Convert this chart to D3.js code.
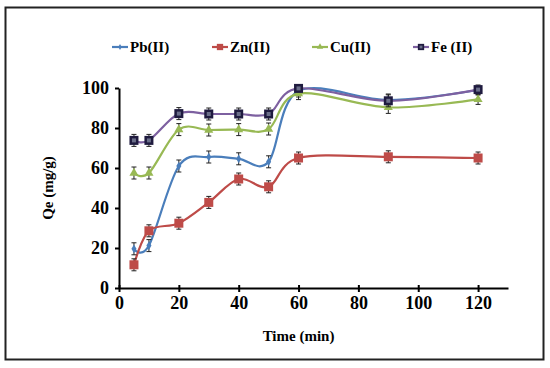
<!DOCTYPE html>
<html>
<head>
<meta charset="utf-8">
<script src="https://cdn.jsdelivr.net/npm/d3@7"></script>
<style>
  body { margin: 0; background: #fff; }
  svg text { font-family: "Liberation Serif", "Times New Roman", serif; font-weight: bold; }
</style>
</head>
<body>
<svg id="drawing_region"></svg>
<script>
// data
const times = [5, 10, 20, 30, 40, 50, 60, 90, 120];
const pb = [19.6, 21.2, 61, 65.5, 64.6, 63.1, 98.5, 94, 99];
const zn = [11.6, 28.6, 32.4, 42.8, 54.5, 50.6, 65, 65.6, 65];
const cu = [57.5, 57.5, 79.2, 79, 79.2, 79.5, 97.2, 90.3, 94.3];
const fe = [73.8, 73.8, 87.2, 87, 87, 87, 99.8, 93.6, 99.2];
const errPb = [3, 3, 3, 3, 3, 3, 3, 3, 2.5];
const errZn = [3, 3, 3, 3, 3, 3, 3, 3, 3];
const errCu = [3, 3, 3, 3, 3, 3, 3, 3, 2.5];
const errFe = [3, 3, 3, 3, 3, 3, 1, 3, 1.5];
const seriesNames = ["Pb(II)", "Zn(II)", "Cu(II)", "Fe (II)"];
const xTicks = [0, 20, 40, 60, 80, 100, 120];
const yTicks = [0, 20, 40, 60, 80, 100];

const W = 550, H = 368;
const margin = {left: 119, top: 88, right: 41, bottom: 80};
const serif = '"Liberation Serif", "Times New Roman", serif';

const svg = d3.select('#drawing_region')
    .attr('width', W)
    .attr('height', H);

// outer frame
svg.append('rect')
    .attr('x', 5.5).attr('y', 7.5)
    .attr('width', 538).attr('height', 352)
    .attr('fill', 'none')
    .attr('stroke', '#222')
    .attr('stroke-width', 2);

const x = d3.scaleLinear().domain([0, 130]).range([margin.left, W - margin.right - 1]);
const y = d3.scaleLinear().domain([0, 100]).range([288, 88]);

const g = svg.append('g');

// axes
const xAxis = g.append('g')
    .attr('transform', `translate(0,${y(0)})`)
    .call(d3.axisBottom(x).tickValues(xTicks).tickSize(4).tickSizeOuter(0).tickPadding(4));
const yAxis = g.append('g')
    .attr('transform', `translate(${x(0)},0)`)
    .call(d3.axisLeft(y).tickValues(yTicks).tickSize(4).tickSizeOuter(0).tickPadding(6));

[xAxis, yAxis].forEach(a => {
    a.attr('font-family', serif).attr('font-size', 18);
    a.select('.domain').attr('stroke', '#000').attr('stroke-width', 2);
    a.selectAll('.tick line').attr('stroke', '#000').attr('stroke-width', 2);
    a.selectAll('.tick text')
        .attr('fill', '#000')
        .style('font-family', serif)
        .style('font-size', '18px')
        .style('font-weight', 'bold');
});
// tick marks cross the x axis in the original
xAxis.selectAll('.tick line').attr('y1', -3).attr('y2', 4);

// axis titles
svg.append('text')
    .attr('x', x(60)).attr('y', 341)
    .attr('text-anchor', 'middle')
    .attr('font-size', 15)
    .text('Time (min)');
svg.append('text')
    .attr('transform', `translate(53,${y(50)}) rotate(-90)`)
    .attr('text-anchor', 'middle')
    .attr('font-size', 15)
    .text('Qe (mg/g)');

const series = [
    {name: seriesNames[0], values: pb, err: errPb, color: '#4a7ebb', marker: 'diamond'},
    {name: seriesNames[1], values: zn, err: errZn, color: '#be4b48', marker: 'square'},
    {name: seriesNames[2], values: cu, err: errCu, color: '#98b954', marker: 'triangle'},
    {name: seriesNames[3], values: fe, err: errFe, color: '#7d60a0', marker: 'fe'}
];

const line = d3.line()
    .x(d => x(d.t))
    .y(d => y(d.v))
    .curve(d3.curveCardinal.tension(0));

function drawMarker(sel, s, cx, cy) {
    if (s.marker === 'diamond') {
        sel.append('path')
            .attr('d', d3.symbol(d3.symbolDiamond, 22)())
            .attr('transform', `translate(${cx},${cy})`)
            .attr('fill', s.color);
    } else if (s.marker === 'square') {
        sel.append('rect')
            .attr('x', cx - 4.5).attr('y', cy - 4.5)
            .attr('width', 9).attr('height', 9)
            .attr('fill', s.color);
    } else if (s.marker === 'triangle') {
        sel.append('path')
            .attr('d', d3.symbol(d3.symbolTriangle, 36)())
            .attr('transform', `translate(${cx},${cy})`)
            .attr('fill', s.color);
    } else {
        sel.append('rect')
            .attr('x', cx - 4.5).attr('y', cy - 4.5)
            .attr('width', 9).attr('height', 9)
            .attr('fill', '#1f1b3f');
        sel.append('rect')
            .attr('x', cx - 2).attr('y', cy - 2)
            .attr('width', 4).attr('height', 4)
            .attr('fill', '#6b6f8a');
    }
}

// lines first, markers and error bars on top
series.forEach(s => {
    const pts = times.map((t, i) => ({t: t, v: s.values[i], e: s.err[i]}));
    g.append('path')
        .datum(pts)
        .attr('d', line)
        .attr('fill', 'none')
        .attr('stroke', s.color)
        .attr('stroke-width', 2.2);
});

series.forEach(s => {
    const pts = times.map((t, i) => ({t: t, v: s.values[i], e: s.err[i]}));
    const eg = g.append('g');
    pts.forEach(d => {
        const cx = x(d.t);
        eg.append('line')
            .attr('x1', cx).attr('x2', cx)
            .attr('y1', y(d.v - d.e)).attr('y2', y(d.v + d.e))
            .attr('stroke', '#222').attr('stroke-width', 1);
        [d.v - d.e, d.v + d.e].forEach(v => {
            eg.append('line')
                .attr('x1', cx - 2.5).attr('x2', cx + 2.5)
                .attr('y1', y(v)).attr('y2', y(v))
                .attr('stroke', '#222').attr('stroke-width', 1);
        });
        drawMarker(eg, s, cx, y(d.v));
    });
});

// legend
const legendX = [112, 212, 312, 413];
const legend = svg.append('g');
series.forEach((s, i) => {
    const lx = legendX[i], ly = 47;
    legend.append('line')
        .attr('x1', lx).attr('x2', lx + 16)
        .attr('y1', ly).attr('y2', ly)
        .attr('stroke', s.color).attr('stroke-width', 2.2);
    const m = legend.append('g');
    drawMarker(m, s, lx + 8, ly);
    m.attr('transform', `translate(${(lx + 8) * 0.3},${ly * 0.3}) scale(0.7)`);
    legend.append('text')
        .attr('x', lx + 18).attr('y', ly + 5)
        .attr('font-size', 15)
        .text(s.name);
});
</script>
</body>
</html>
